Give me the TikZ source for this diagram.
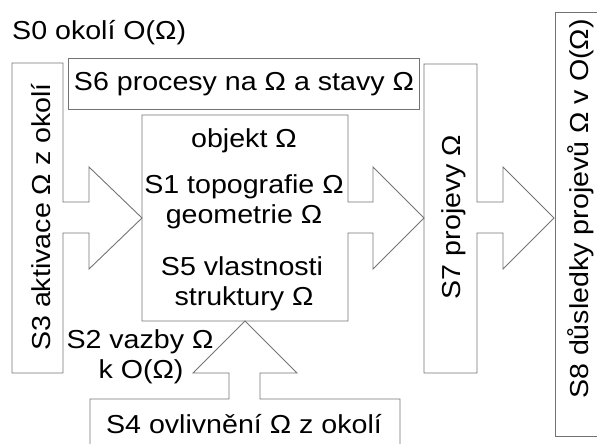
\documentclass[tikz,border=0pt]{standalone}
\usepackage{fontspec}
\setmainfont{Liberation Sans}[FakeStretch=1.1]

\tikzset{
  outline/.style={draw=black!55, line width=0.9pt, line join=miter},
  lbl/.style={inner sep=0pt, anchor=base, font=\fontsize{26}{30}\selectfont},
}

\begin{document}
\begin{tikzpicture}[x=1pt,y=-1pt]
\useasboundingbox (0,0) rectangle (597,444);
\clip (0,0) rectangle (597,444);

% S3 box with its arrow
\draw[outline] (12,63) -- (63,63) -- (63,202) -- (89,202) -- (89,167) -- (142,218)
  -- (89,269) -- (89,233) -- (63,233) -- (63,373) -- (12,373) -- cycle;
% S6
\draw[outline] (68,58) rectangle (419,109);
% objekt with its arrow
\draw[outline] (142,115) -- (348,115) -- (348,202) -- (373,202) -- (373,167) -- (424,218)
  -- (373,269) -- (373,233) -- (348,233) -- (348,321) -- (142,321) -- cycle;
% S4 box with its arrow
\draw[outline] (90,460) -- (90,399) -- (229,399) -- (229,373) -- (193,373) -- (245,321)
  -- (297,373) -- (260,373) -- (260,399) -- (400,399) -- (400,460);
% S7 box with its arrow
\draw[outline] (424,64) -- (477,64) -- (477,202) -- (503,202) -- (503,167) -- (554,218)
  -- (503,269) -- (503,233) -- (477,233) -- (477,373) -- (424,373) -- cycle;
% S8
\draw[outline] (620,12) -- (555,12) -- (555,436) -- (620,436);

\node[lbl, anchor=base west] (s0) at (12,40) {S0 okolí O(Ω)};
\node[lbl] (s6) at (244,90) {S6 procesy na Ω a stavy Ω};
\node[lbl] (objekt) at (244,147) {objekt Ω};
\node[lbl] (s1) at (244,193) {S1 topografie Ω};
\node[lbl] (geom) at (244,223) {geometrie Ω};
\node[lbl] (s5) at (242,275) {S5 vlastnosti};
\node[lbl] (strukt) at (244,305) {struktury Ω};
\node[lbl] (s2) at (140,348) {S2 vazby Ω};
\node[lbl] (s2b) at (141,378) {k O(Ω)};
\node[lbl] (s4) at (244,433) {S4 ovlivnění Ω z okolí};
\node[lbl, rotate=90] (s3) at (50,217) {S3 aktivace Ω z okolí};
\node[lbl, rotate=90] (s7) at (460,217) {S7 projevy Ω};
\node[lbl, rotate=90] (s8) at (588,209) {S8 důsledky projevů Ω v O(Ω)};
\end{tikzpicture}
\end{document}
